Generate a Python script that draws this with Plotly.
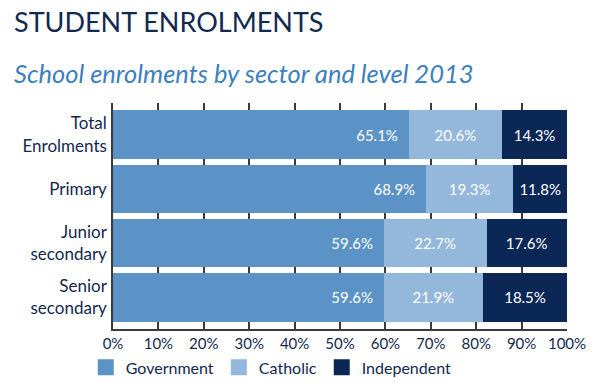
import plotly.graph_objects as go

categories = ["Total<br>Enrolments", "Primary", "Junior<br>secondary", "Senior<br>secondary"]
government = [65.1, 68.9, 59.6, 59.6]
catholic = [20.6, 19.3, 22.7, 21.9]
independent = [14.3, 11.8, 17.6, 18.5]
x_ticks = [0, 10, 20, 30, 40, 50, 60, 70, 80, 90, 100]
x_tick_labels = [f"{t}%" for t in x_ticks]

FONT = "Lato, 'Noto Sans', sans-serif"
NAVY = "#13284f"

fig = go.Figure()
series = [
    ("Government", government, "#5b93c7", "end", [f"{v:.1f}%\u00a0\u00a0" for v in government]),
    ("Catholic", catholic, "#94b7dc", "middle", [f"{v:.1f}%" for v in catholic]),
    ("Independent", independent, "#0b2756", "middle", [f"{v:.1f}%" for v in independent]),
]
for name, vals, color, anchor, txt in series:
    fig.add_trace(go.Bar(
        y=categories, x=vals, name=name, orientation="h",
        marker=dict(color=color, line=dict(width=0)),
        text=txt, textposition="inside", insidetextanchor=anchor,
        textfont=dict(color="white", size=15, family=FONT),
        texttemplate="%{text}",
        showlegend=False,
    ))
# legend entries with larger square swatches
for name, vals, color, anchor, txt in series:
    fig.add_trace(go.Scatter(
        x=[None], y=[None], mode="markers", name=name,
        marker=dict(symbol="square", size=20, color=color),
        showlegend=True,
    ))

fig.update_layout(
    barmode="stack",
    bargap=0.11,
    width=600, height=392,
    margin=dict(l=113, r=33, t=103, b=63, autoexpand=False),
    paper_bgcolor="white", plot_bgcolor="white",
    font=dict(family=FONT, color=NAVY),
    uniformtext=dict(mode="show", minsize=15),
    legend=dict(
        orientation="h", x=-0.06, y=-0.095, xanchor="left", yanchor="top",
        font=dict(size=16, color=NAVY, family=FONT),
        itemsizing="trace", traceorder="normal",
    ),
    annotations=[
        dict(text="STUDENT ENROLMENTS", xref="paper", yref="paper",
             x=-101/454, y=1 + 63/226, xanchor="left", yanchor="bottom",
             showarrow=False, font=dict(size=27, color=NAVY, family=FONT)),
        dict(text="<i>School enrolments by sector and level 2013</i>", xref="paper", yref="paper",
             x=-101/454, y=1 + 13/226, xanchor="left", yanchor="bottom",
             showarrow=False, font=dict(size=25.5, color="#3d7fc0", family=FONT)),
    ],
)
fig.update_xaxes(
    range=[0, 100], tickvals=x_ticks, ticktext=x_tick_labels,
    showgrid=True, gridcolor="#3a3a3a", gridwidth=1.5,
    showline=True, linecolor="#3a3a3a", linewidth=1.5,
    zeroline=False, ticks="", tickfont=dict(size=15, color=NAVY, family=FONT),
    automargin=False,
)
fig.update_yaxes(
    range=[3.58, -0.58], showgrid=False, zeroline=False,
    showline=True, linecolor="#3a3a3a", linewidth=1.5,
    ticks="", ticklabelstandoff=1, automargin=False,
    tickfont=dict(size=17, color=NAVY, family=FONT),
)

fig.write_html("out.html", config={"displayModeBar": False},
               post_script="document.body.style.margin='0';")
